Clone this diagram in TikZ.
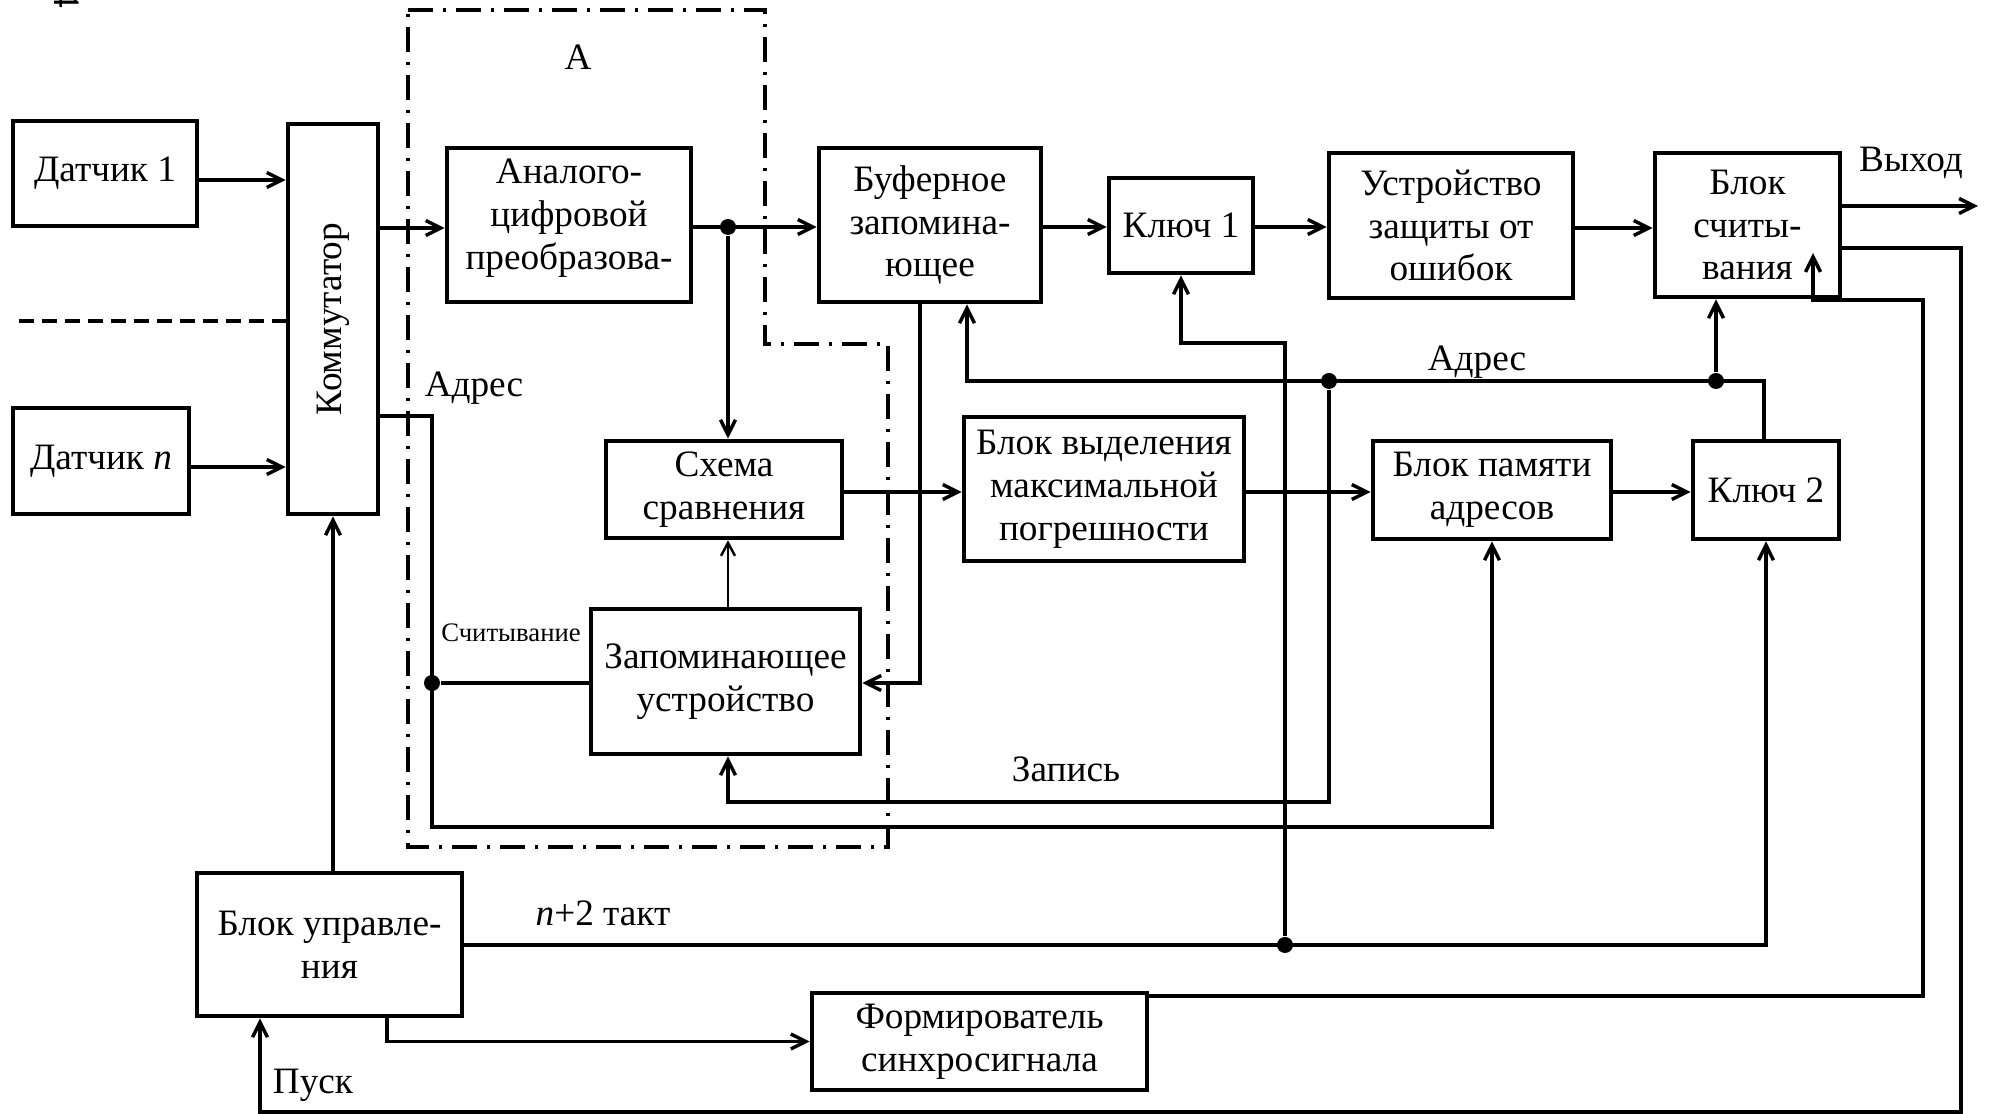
\documentclass[tikz,border=0pt]{standalone}
\usepackage{fontspec}
\setmainfont{Liberation Serif}
\usetikzlibrary{arrows.meta}
\begin{document}
\begin{tikzpicture}[x=0.1mm, y=-0.1mm,
  every node/.style={font=\fontsize{10.6pt}{12.2pt}\selectfont},
  blk/.style={draw, line width=1.3pt, inner sep=0pt, align=center},
  ln/.style={line width=1pt},
  arr/.style={ln, -{Straight Barb[length=1.5mm, width=1.5mm, line width=1pt]}},
  thinarr/.style={line width=0.5pt, -{Straight Barb[length=1.3mm, width=1.4mm, line width=0.7pt]}},
  dot/.style={circle, fill, inner sep=0pt, minimum size=1.6mm},
  lbl/.style={inner sep=0pt},
  smalllbl/.style={inner sep=0pt, font=\fontsize{7.6pt}{9pt}\selectfont},
  regionline/.style={line width=0.9pt, dash pattern=on 2.5mm off 1mm on 0.3mm off 1mm},
  sepline/.style={line width=0.9pt, dash pattern=on 1.5mm off 0.8mm}]
\useasboundingbox (0,0) rectangle (1989,1114);

% cut page number
\node[lbl, rotate=-90] (pgnum) at (67,-1) {4};

% blocks
\node[blk, minimum width=18.4mm, minimum height=10.5mm] (d1) at (105,173.5) {Датчик 1};
\node[blk, minimum width=17.6mm, minimum height=10.6mm] (dn) at (101,461) {Датчик \textit{n}};
\node[blk, minimum width=9mm, minimum height=39mm] (kom) at (333,319) {};
\node[lbl, rotate=90] (komtxt) at (kom.center) {Коммутатор};
\node[blk, minimum width=24.4mm, minimum height=15.4mm, text depth=6.3pt] (adc) at (569,225) {Аналого-\\цифровой\\преобразова-};
\node[blk, minimum width=22.2mm, minimum height=15.4mm] (buf) at (930,225) {Буферное\\запомина-\\ющее};
\node[blk, minimum width=14.4mm, minimum height=9.5mm] (k1) at (1181,225.5) {Ключ 1};
\node[blk, minimum width=24.4mm, minimum height=14.5mm] (ustr) at (1451,225.5) {Устройство\\защиты от\\ошибок};
\node[blk, minimum width=18.5mm, minimum height=14.4mm] (bsch) at (1747.5,225) {Блок\\считы-\\вания};
\node[blk, minimum width=23.6mm, minimum height=9.7mm] (sxs) at (724,489.5) {Схема\\сравнения};
\node[blk, minimum width=28mm, minimum height=14.4mm] (bvmp) at (1104,489) {Блок выделения\\максимальной\\погрешности};
\node[blk, minimum width=23.8mm, minimum height=9.8mm] (bpa) at (1492,490) {Блок памяти\\адресов};
\node[blk, minimum width=14.6mm, minimum height=9.8mm] (k2) at (1766,490) {Ключ 2};
\node[blk, minimum width=26.9mm, minimum height=14.5mm] (zu) at (725.5,681.5) {Запоминающее\\устройство};
\node[blk, minimum width=26.5mm, minimum height=14.3mm] (bu) at (329.5,944.5) {Блок управле-\\ния};
\node[blk, minimum width=33.5mm, minimum height=9.7mm] (fs) at (979.5,1041.5) {Формирователь\\синхросигнала};

% region A
\draw[regionline] (408,10) -- (765,10) -- (765,344) -- (888,344) -- (888,847) -- (408,847) -- cycle;
\node[lbl] (lblA) at (578,57) {А};

% separator between the sensors
\draw[sepline] (19,321) -- (kom.west |- 0,321);

% sensors and commutator
\draw[arr] (d1.east |- 0,180) -- (kom.west |- 0,180);
\draw[arr] (dn.east |- 0,467) -- (kom.west |- 0,467);
\draw[arr] (kom.east |- 0,228) -- (adc.west |- 0,228);

% main data path
\node[dot] (j1) at (728,227) {};
\draw[arr] (adc.east |- 0,227) -- (buf.west |- 0,227);
\draw[arr] (j1) -- (sxs.north -| j1);
\draw[arr] (buf.east |- 0,227) -- (k1.west |- 0,227);
\draw[arr] (k1.east |- 0,227) -- (ustr.west |- 0,227);
\draw[arr] (ustr.east |- 0,228) -- (bsch.west |- 0,228);
\coordinate (out) at (1978,206);
\draw[arr] (bsch.east |- out) -- (out);
\node[lbl] (vyh) at (1911,163) {Выход};

% buffer to memory
\draw[arr] (buf.south -| 920,0) -- (920,683) -- (zu.east |- 0,683);
\draw[thinarr] (zu.north -| 728,0) -- (sxs.south -| 728,0);

% comparison chain
\draw[arr] (sxs.east |- 0,492) -- (bvmp.west |- 0,492);
\draw[arr] (bvmp.east |- 0,492) -- (bpa.west |- 0,492);
\draw[arr] (bpa.east |- 0,492) -- (k2.west |- 0,492);

% address bus
\node[dot] (j2) at (1329,381) {};
\node[dot] (j3) at (1716,381) {};
\draw[arr] (k2.north -| 1764,0) |- (967,381) -- (buf.south -| 967,0);
\draw[arr] (j3) -- (bsch.south -| j3);
\draw[arr] (j2) |- (728,802) -- (zu.south -| 728,0);
\node[lbl] (adr2) at (1477,362) {Адрес};
\node[lbl] (zap) at (1066,769) {Запись};

% commutator address / read line
\node[dot] (j5) at (432,683) {};
\draw[arr] (kom.east |- 0,416) -| (432,827) -| (bpa.south);
\draw[ln] (j5) -- (zu.west |- j5);
\node[lbl] (adr1) at (474,388) {Адрес};
\node[smalllbl] (sch) at (511,633) {Считывание};

% control unit
\draw[arr] (bu.north -| kom.south) -- (kom.south);
\draw[arr] (bu.south -| 387,0) |- (fs.west);
\node[dot] (j4) at (1285,945) {};
\draw[arr] (bu.east |- 0,945) -| (k2.south);
\draw[arr] (j4) |- (1181,343) -- (k1.south);
\node[lbl] (takt) at (603,913) {\textit{n}+2 такт};

% sync signal and start
\coordinate (syncin) at (1813,253);
\draw[arr] (fs.east |- 0,996) -- (1923,996) -- (1923,300) -- (1813,300) -- (syncin);
\draw[arr] (bsch.east |- 0,248) -- (1961,248) -- (1961,1112) -- (260,1112) -- (bu.south -| 260,0);
\node[lbl] (pusk) at (313,1085) {Пуск};
\end{tikzpicture}
\end{document}
